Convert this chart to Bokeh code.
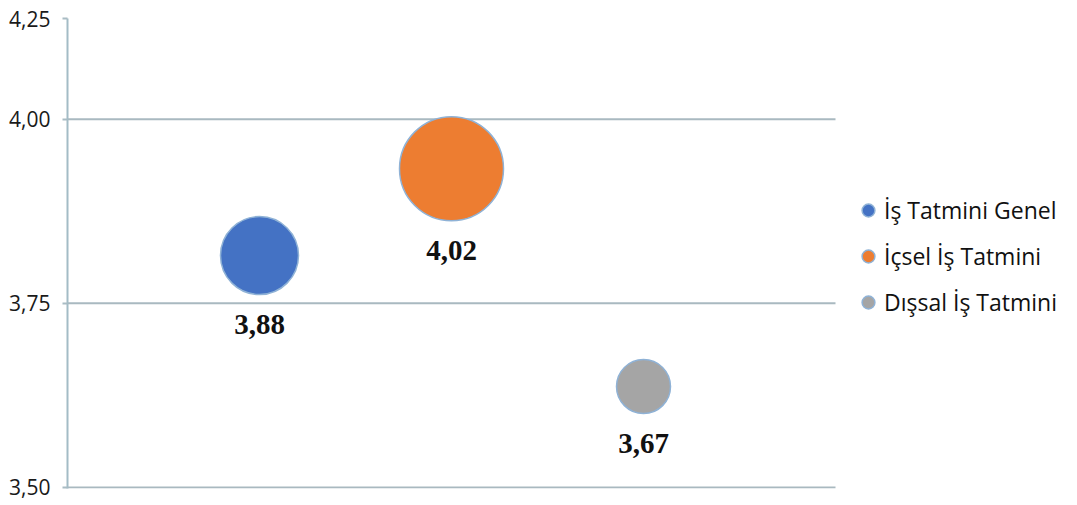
from bokeh.plotting import figure
from bokeh.models import ColumnDataSource, Range1d, FixedTicker, Legend, LegendItem
from bokeh.core.properties import value
from bokeh.embed import file_html
from bokeh.resources import INLINE

# ---- data ----
series = ["İş Tatmini Genel", "İçsel İş Tatmini", "Dışsal İş Tatmini"]
x_pos = [1, 2, 3]
y_vals = [3.815, 3.933, 3.637]
bubble_size = [78, 104, 54]
labels = ["3,88", "4,02", "3,67"]
colors = ["#4472C4", "#ED7D31", "#A5A5A5"]
y_ticks = [3.50, 3.75, 4.00, 4.137]
y_tick_labels = ["3,50", "3,75", "4,00", "4,25"]

label_offsets = [s / 2 + 30 for s in bubble_size]

src = ColumnDataSource(dict(x=x_pos, y=y_vals, size=bubble_size, label=labels,
                            color=colors, name=series, off=label_offsets))

W, H = 1077, 505
left, plot_right = 67, 835
x_end = 4 * (W - left) / (plot_right - left)

p = figure(width=W, height=H, output_backend="svg", toolbar_location=None,
           x_range=Range1d(0, x_end), y_range=Range1d(3.4985, 4.137),
           min_border_left=left, min_border_right=0, min_border_top=18,
           min_border_bottom=17)
p.outline_line_color = None
p.background_fill_color = "white"
p.border_fill_color = "white"

p.xaxis.visible = False
p.xgrid.visible = False
p.ygrid.visible = False

yax = p.yaxis[0]
yax.ticker = FixedTicker(ticks=y_ticks)
yax.major_label_overrides = {t: l for t, l in zip(y_ticks, y_tick_labels)}
yax.major_label_text_font = "Open Sans"
yax.major_label_text_font_size = "21px"
yax.major_label_text_color = "#1a1a1a"
yax.major_label_standoff = 12
yax.major_tick_out = 5
yax.major_tick_in = 0
yax.major_tick_line_color = "#a9bcc4"
yax.major_tick_line_width = 2
yax.minor_tick_line_color = None
yax.axis_line_color = "#a3bcc6"
yax.axis_line_width = 2

# horizontal gridlines across the plot area only (x from 0 to 4)
gy = y_ticks[:3]
p.segment(x0=[0] * len(gy), y0=gy, x1=[4] * len(gy), y1=gy,
          line_color="#a9b9c0", line_width=2)

rends = []
for i in range(len(series)):
    s = ColumnDataSource(dict(x=[x_pos[i]], y=[y_vals[i]], size=[bubble_size[i]]))
    r = p.scatter("x", "y", size="size", source=s, fill_color=colors[i],
                  line_color="#8fb2d6", line_width=1.5)
    rends.append(r)

p.text("x", "y", text="label", source=src, y_offset="off",
       text_font=value("Liberation Serif"), text_font_style="bold",
       text_font_size="29px", text_align="center", text_baseline="middle",
       text_color="#111111")

legend = Legend(items=[LegendItem(label=series[i], renderers=[rends[i]]) for i in range(3)],
                location=(852 - left, 168), orientation="vertical")
legend.glyph_width = 32
legend.glyph_height = 36
legend.label_height = 20
legend.spacing = 10
legend.padding = 0
legend.margin = 0
legend.label_standoff = 0
legend.label_text_font = "Open Sans"
legend.label_text_font_size = "23px"
legend.label_text_color = "#111111"
legend.border_line_color = None
legend.background_fill_alpha = 0
p.add_layout(legend, "center")

open("out.html", "w").write(file_html(p, INLINE))
